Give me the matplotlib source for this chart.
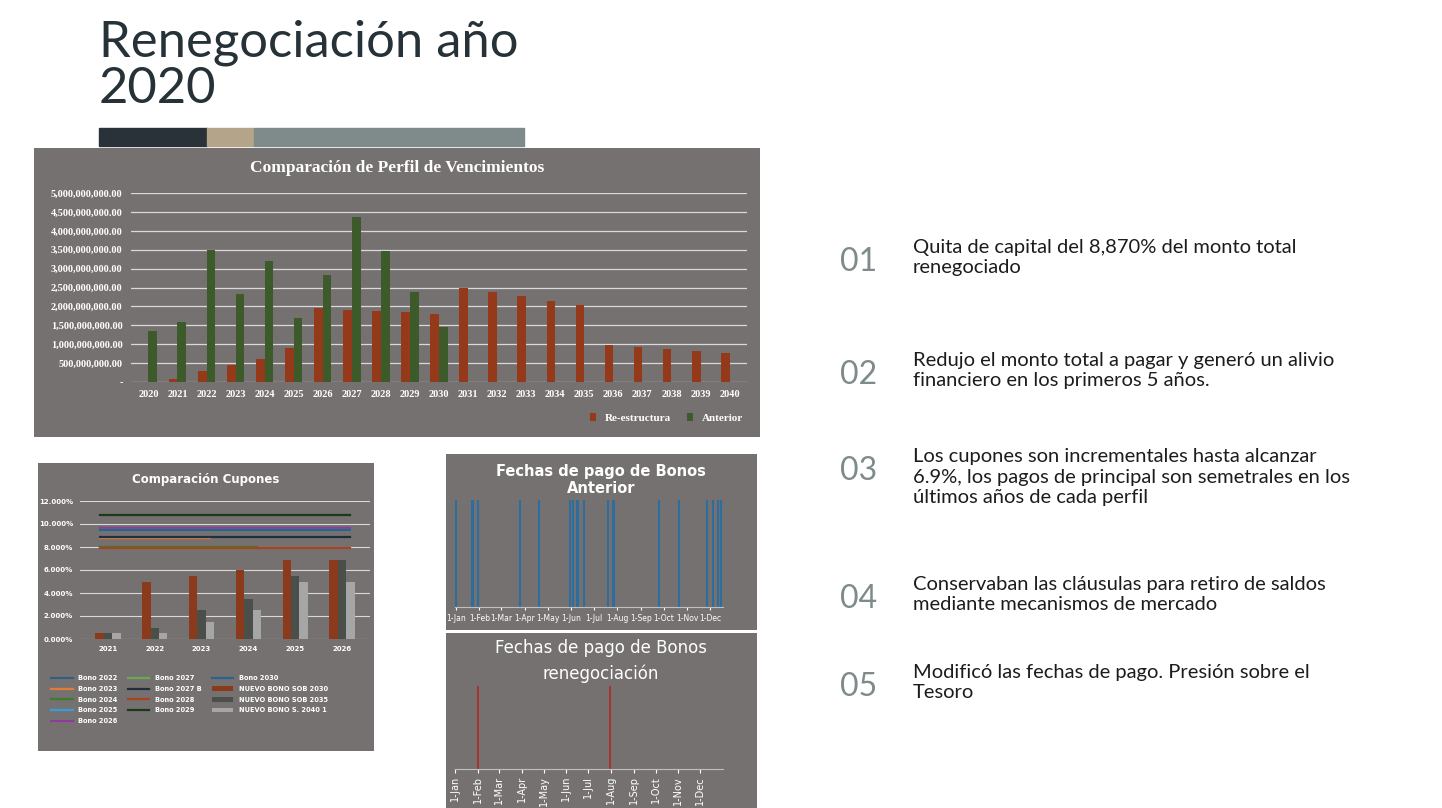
import matplotlib
matplotlib.use("Agg")
import matplotlib.pyplot as plt
import numpy as np
from matplotlib.patches import Rectangle

W, H = 1442, 808
fig = plt.figure(figsize=(W/100, H/100), dpi=100)
fig.patch.set_facecolor("white")

def ax_px(x0, y0, x1, y1, **kw):
    return fig.add_axes([x0/W, 1-y1/H, (x1-x0)/W, (y1-y0)/H], **kw)

def panel(x0, y0, x1, y1, color):
    p = ax_px(x0, y0, x1, y1)
    p.set_facecolor(color)
    p.set_xticks([]); p.set_yticks([])
    for s in p.spines.values():
        s.set_visible(False)
    p.set_zorder(-5)
    return p

# ---------------- data ----------------
years = [str(y) for y in range(2020, 2041)]
reestructura = [0, 0.07, 0.28, 0.46, 0.60, 0.90, 1.95, 1.90, 1.87, 1.85, 1.81,
                2.50, 2.38, 2.27, 2.15, 2.03, 0.97, 0.92, 0.87, 0.82, 0.77]   # billions
anterior = [1.35, 1.58, 3.48, 2.33, 3.20, 1.70, 2.82, 4.36, 3.47, 2.37, 1.46,
            0, 0, 0, 0, 0, 0, 0, 0, 0, 0]

cup_years = ["2021", "2022", "2023", "2024", "2025", "2026"]
nuevo_2030 = [0.5, 5.0, 5.5, 6.0, 6.875, 6.875]
nuevo_2035 = [0.5, 1.0, 2.5, 3.5, 5.5, 6.875]
nuevo_2040 = [0.5, 0.5, 1.5, 2.5, 5.0, 5.0]
bono_names = ["Bono 2022", "Bono 2023", "Bono 2024", "Bono 2025", "Bono 2026", "Bono 2027",
              "Bono 2027 B", "Bono 2028", "Bono 2029", "Bono 2030"]
bono_rates = [8.0, 8.75, 8.0, 9.5, 9.625, 9.5, 8.875, 7.875, 10.75, 9.45]
bono_last = [0, 2, 3, 5, 5, 5, 5, 5, 5, 5]   # index of last year shown
bono_colors = ["#2e5f86", "#e07b39", "#3a7d2c", "#3b9bd6", "#8e3c97", "#6aa84f",
               "#1f2f3f", "#a5441e", "#1a3a1a", "#27648f"]

month_labels = ["1-Jan", "1-Feb", "1-Mar", "1-Apr", "1-May", "1-Jun", "1-Jul",
                "1-Aug", "1-Sep", "1-Oct", "1-Nov", "1-Dec"]
month_days = [0, 31, 60, 91, 121, 152, 182, 213, 244, 274, 305, 335]
pagos_anterior = [0, 21, 23, 29, 84, 109, 151, 155, 160, 161, 169, 201, 207, 209,
                  268, 294, 331, 339, 345, 349]
pagos_reneg = [31, 212]

# ---------------- header ----------------
fig.text(99/W, 1-20/H, "Renegociación año\n2020", fontsize=36.5, color="#263238",
         family="Lato", va="top", ha="left", linespacing=0.98)
for x0, x1, c in [(99, 207, "#283238"), (207, 254, "#b4a489"), (254, 524, "#7e8b8a")]:
    fig.patches.append(Rectangle((x0/W, 1-146/H), (x1-x0)/W, 18/H,
                                 transform=fig.transFigure, color=c))

bg = "#767171"
# ---------------- main chart ----------------
panel(34, 148, 760, 437, bg)
fig.text(397/W, 1-168/H, "Comparación de Perfil de Vencimientos", ha="center", va="center",
         color="white", fontsize=12.5, fontweight="bold", family="Liberation Serif")
ax = ax_px(131, 193, 747, 382)
ax.set_facecolor("none")
x = np.arange(len(years))
bw = 0.3
ax.bar(x - bw/2, reestructura, bw, color="#94391a", label="Re-estructura")
ax.bar(x + bw/2, anterior, bw, color="#3d5a2a", label="Anterior")
ax.set_ylim(0, 5)
ax.set_xlim(-0.6, len(years)-0.4)
ax.set_yticks(np.arange(0, 5.01, 0.5))
ax.set_yticklabels(["-"] + [f"{int(round(v*1e9)):,}.00" for v in np.arange(0.5, 5.01, 0.5)])
ax.set_xticks(x)
ax.set_xticklabels(years)
ax.grid(axis="y", color="#d9d9d9", lw=0.9)
ax.set_axisbelow(True)
for s in ax.spines.values():
    s.set_visible(False)
ax.tick_params(length=0, colors="white", labelsize=7.5, pad=6)
for t in ax.get_xticklabels() + ax.get_yticklabels():
    t.set_fontweight("bold"); t.set_family("Liberation Serif")
ax.legend(loc="upper right", bbox_to_anchor=(1.01, -0.11), ncol=2, frameon=False,
          prop={"family": "Liberation Serif", "weight": "bold", "size": 8},
          labelcolor="white", handlelength=0.5, handleheight=0.8, columnspacing=1.5)

# ---------------- coupons chart ----------------
panel(38, 463, 374, 751, bg)
fig.text(206/W, 1-480/H, "Comparación Cupones", ha="center", va="center",
         color="white", fontsize=8.5, fontweight="bold", family="DejaVu Sans Condensed")
ax2 = ax_px(80, 501, 370, 639)
ax2.set_facecolor("none")
xc = np.arange(len(cup_years))
cw = 0.18
ax2.bar(xc - cw, nuevo_2030, cw, color="#8b3a1c", label="NUEVO BONO SOB 2030")
ax2.bar(xc, nuevo_2035, cw, color="#4b4f4a", label="NUEVO BONO SOB 2035")
ax2.bar(xc + cw, nuevo_2040, cw, color="#a6a6a6", label="NUEVO BONO S. 2040 1")
for n, r, l, c in zip(bono_names, bono_rates, bono_last, bono_colors):
    ax2.plot([xc[0] - cw, xc[l] + cw], [r, r], color=c, lw=1.6, label=n)
ax2.set_ylim(0, 12)
ax2.set_xlim(-0.6, len(cup_years) - 0.4)
ax2.set_yticks(np.arange(0, 12.01, 2))
ax2.set_yticklabels([f"{v:.3f}%" for v in np.arange(0, 12.01, 2)])
ax2.set_xticks(xc); ax2.set_xticklabels(cup_years)
ax2.grid(axis="y", color="#d9d9d9", lw=0.8)
ax2.set_axisbelow(True)
for s in ax2.spines.values():
    s.set_visible(False)
ax2.tick_params(length=0, colors="white", labelsize=5, pad=5)
for t in ax2.get_xticklabels() + ax2.get_yticklabels():
    t.set_fontweight("bold"); t.set_family("DejaVu Sans Condensed")
ax2.legend(loc="upper left", bbox_to_anchor=(-0.12, -0.22), ncol=3, frameon=False,
           prop={"weight": "bold", "size": 4.8, "family": "DejaVu Sans Condensed"},
           labelcolor="white", handlelength=3.2, columnspacing=1.6, labelspacing=0.7)

# ---------------- dates charts ----------------
panel(446, 454, 757, 630, bg)
panel(446, 633, 757, 808, bg)
fig.text(601/W, 1-480/H, "Fechas de pago de Bonos\nAnterior", ha="center", va="center",
         color="white", fontsize=10.5, fontweight="bold", linespacing=1.1,
         family="DejaVu Sans Condensed")
ax3 = ax_px(455, 500, 723, 607)
ax3.set_facecolor("none")
ax3.vlines(pagos_anterior, 0, 1, color="#2c6e9e", lw=1.5)
ax3.set_xlim(-1, 352); ax3.set_ylim(0, 1)
ax3.set_xticks(month_days); ax3.set_xticklabels(month_labels)
ax3.set_yticks([])
for s in ["top", "right", "left"]:
    ax3.spines[s].set_visible(False)
ax3.spines["bottom"].set_color("#bfbfbf")
ax3.tick_params(colors="white", labelsize=5.5, length=2, pad=3)
for t in ax3.get_xticklabels():
    t.set_family("DejaVu Sans Condensed")

fig.text(601/W, 1-661/H, "Fechas de pago de Bonos\nrenegociación", ha="center", va="center",
         color="white", fontsize=12, linespacing=1.45, family="DejaVu Sans Condensed")
ax4 = ax_px(455, 686, 723, 769)
ax4.set_facecolor("none")
ax4.vlines(pagos_reneg, 0, 1, color="#b22a22", lw=1.2)
ax4.set_xlim(0, 366); ax4.set_ylim(0, 1)
ax4.set_xticks(month_days); ax4.set_xticklabels(month_labels, rotation=90)
ax4.set_yticks([])
for s in ["top", "right", "left"]:
    ax4.spines[s].set_visible(False)
ax4.spines["bottom"].set_color("#bfbfbf")
ax4.tick_params(colors="white", labelsize=7, length=3, pad=2)
for t in ax4.get_xticklabels():
    t.set_family("DejaVu Sans Condensed")

# ---------------- right text ----------------
items = [
    ("01", 262, "Quita de capital del 8,870% del monto total\nrenegociado"),
    ("02", 375, "Redujo el monto total a pagar y generó un alivio\nfinanciero en los primeros 5 años."),
    ("03", 471, "Los cupones son incrementales hasta alcanzar\n6.9%, los pagos de principal son semetrales en los\núltimos años de cada perfil"),
    ("04", 599, "Conservaban las cláusulas para retiro de saldos\nmediante mecanismos de mercado"),
    ("05", 687, "Modificó las fechas de pago. Presión sobre el\nTesoro"),
]
for num, yc, txt in items:
    fig.text(840/W, 1-yc/H, num, fontsize=23, color="#7f8a8a", family="Lato", va="center")
    fig.text(913/W, 1-(yc-23)/H, txt, fontsize=14.5, color="#1c1c1c", family="Lato",
             va="top", linespacing=1.25)

fig.savefig("out.png", dpi=100, facecolor=fig.get_facecolor())
